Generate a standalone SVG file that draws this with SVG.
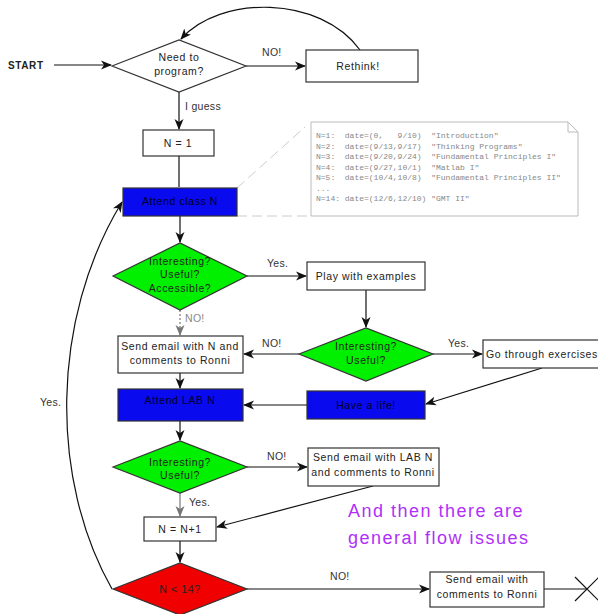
<svg xmlns="http://www.w3.org/2000/svg" width="598" height="614" viewBox="0 0 598 614">
<defs>
<style>
.box{stroke:#333;stroke-width:1.2}
.w{fill:#fff}
.blue{fill:#0a0aef}
.green{fill:#00f000}
.red{fill:#f00000}
.t{font-family:"Liberation Sans",Arial,sans-serif;font-size:10.5px;fill:#222;text-anchor:middle;letter-spacing:0.6px}
.lbl{font-family:"Liberation Sans",Arial,sans-serif;font-size:10.5px;fill:#333;letter-spacing:0.3px}
.c{fill:none;stroke:#111;stroke-width:1.2}
.g{fill:none;stroke:#777;stroke-width:1.2}
.mono{font-family:"Liberation Mono","Courier New",monospace;font-size:8px;fill:#888;white-space:pre}
.big{font-family:"Liberation Sans",Arial,sans-serif;font-size:18px;fill:#b030f8;letter-spacing:1.5px}
</style>
<marker id="a" markerWidth="11" markerHeight="10" refX="10" refY="5" orient="auto" markerUnits="userSpaceOnUse"><path d="M0,0.5 L11,5 L0,9.5 L3,5 z" fill="#111"/></marker>
<marker id="ag" markerWidth="11" markerHeight="10" refX="10" refY="5" orient="auto" markerUnits="userSpaceOnUse"><path d="M0,0.5 L11,5 L0,9.5 L3,5 z" fill="#777"/></marker>
</defs>
<rect width="598" height="614" fill="#fff"/>

<g id="connectors">
<line class="c" x1="54" y1="65" x2="111" y2="65" marker-end="url(#a)"/>
<line class="c" x1="246" y1="66" x2="305" y2="66" marker-end="url(#a)"/>
<path class="c" d="M360,50 C320,-5 220,-5 181,39" marker-end="url(#a)"/>
<line class="c" x1="179" y1="92" x2="179" y2="129" marker-end="url(#a)"/>
<line class="c" x1="179" y1="156" x2="179" y2="187"/>
<line class="c" x1="180" y1="216" x2="180" y2="242" marker-end="url(#a)"/>
<line class="c" x1="247" y1="276" x2="306" y2="276" marker-end="url(#a)"/>
<line class="c" x1="366" y1="290" x2="366" y2="327" marker-end="url(#a)"/>
<line class="g" x1="180" y1="310" x2="180" y2="335" stroke-dasharray="2,2" marker-end="url(#ag)"/>
<line class="c" x1="299" y1="354" x2="244" y2="354" marker-end="url(#a)"/>
<line class="c" x1="433" y1="354" x2="482" y2="354" marker-end="url(#a)"/>
<line class="c" x1="542" y1="368" x2="426" y2="404" marker-end="url(#a)"/>
<line class="c" x1="307" y1="405" x2="244" y2="405" marker-end="url(#a)"/>
<line class="c" x1="180" y1="373" x2="180" y2="388" marker-end="url(#a)"/>
<line class="c" x1="180" y1="421" x2="180" y2="440" marker-end="url(#a)"/>
<line class="c" x1="247" y1="467" x2="307" y2="467" marker-end="url(#a)"/>
<line class="c" x1="373" y1="486" x2="217" y2="527" marker-end="url(#a)"/>
<line class="g" x1="180" y1="493" x2="180" y2="516" marker-end="url(#ag)"/>
<line class="c" x1="180" y1="541" x2="180" y2="562" marker-end="url(#a)"/>
<line class="c" x1="247" y1="589" x2="429" y2="589" marker-end="url(#a)"/>
<line class="c" x1="544" y1="589" x2="587" y2="589"/>
<path class="c" d="M575,577 L599,601 M575,601 L599,577"/>
<path class="c" d="M112,589 C50,480 50,320 122,202" marker-end="url(#a)"/>
<line x1="237" y1="188" x2="305" y2="127" stroke="#ccc" stroke-width="1" stroke-dasharray="10,5"/>
<line x1="237" y1="216" x2="311" y2="216" stroke="#ccc" stroke-width="1" stroke-dasharray="10,5"/>
</g>

<g id="labels">
<text x="8" y="69" font-family="Liberation Sans,Arial,sans-serif" font-size="10px" font-weight="bold" fill="#222" letter-spacing="0.6">START</text>
<text class="lbl" x="262" y="56">NO!</text>
<text class="lbl" x="185" y="110">I guess</text>
<text class="lbl" x="267" y="267">Yes.</text>
<text class="lbl" x="185" y="322" style="fill:#888">NO!</text>
<text class="lbl" x="262" y="347">NO!</text>
<text class="lbl" x="448" y="347">Yes.</text>
<text class="lbl" x="267" y="460">NO!</text>
<text class="lbl" x="189" y="506">Yes.</text>
<text class="lbl" x="330" y="580">NO!</text>
<text class="lbl" x="40" y="406">Yes.</text>
<text class="big" x="348" y="517">And then there are</text>
<text class="big" x="348" y="544">general flow issues</text>
</g>

<g id="need">
<polygon class="box w" points="112,66 179,40 246,66 179,92"/>
<text class="t" x="179" y="61">Need to</text>
<text class="t" x="179" y="75">program?</text>
</g>
<g id="rethink">
<rect class="box w" x="306" y="50" width="112" height="32"/>
<text class="t" x="358" y="70">Rethink!</text>
</g>
<g id="n1">
<rect class="box w" x="143" y="130" width="71" height="26"/>
<text class="t" x="178" y="147">N = 1</text>
</g>
<g id="note">
<path d="M311,122 L568,122 L578,132 L578,216 L311,216 z" fill="#fff" stroke="#bbb" stroke-width="1"/>
<path d="M568,122 L568,132 L578,132" fill="none" stroke="#bbb" stroke-width="1"/>
<text class="mono" x="316" y="138">N=1:  date=(0,   9/10)  "Introduction"</text>
<text class="mono" x="316" y="148.5">N=2:  date=(9/13,9/17)  "Thinking Programs"</text>
<text class="mono" x="316" y="159">N=3:  date=(9/20,9/24)  "Fundamental Principles I"</text>
<text class="mono" x="316" y="169.5">N=4:  date=(9/27,10/1)  "Matlab I"</text>
<text class="mono" x="316" y="180">N=5:  date=(10/4,10/8)  "Fundamental Principles II"</text>
<text class="mono" x="316" y="190.5">...</text>
<text class="mono" x="316" y="201">N=14: date=(12/6,12/10) "GMT II"</text>
</g>
<g id="attendclass">
<rect class="box blue" x="123" y="188" width="114" height="28"/>
<text class="t" x="180" y="205" style="fill:#000028">Attend class N</text>
</g>
<g id="d1">
<polygon class="box green" points="113,276 180,243 247,276 180,310"/>
<text class="t" x="180" y="265">Interesting?</text>
<text class="t" x="180" y="278">Useful?</text>
<text class="t" x="180" y="292">Accessible?</text>
</g>
<g id="play">
<rect class="box w" x="307" y="262" width="118" height="28"/>
<text class="t" x="366" y="280">Play with examples</text>
</g>
<g id="d2">
<polygon class="box green" points="299,354 366,328 433,354 366,381"/>
<text class="t" x="366" y="350">Interesting?</text>
<text class="t" x="366" y="364">Useful?</text>
</g>
<g id="email1">
<rect class="box w" x="118" y="336" width="125" height="37"/>
<text class="t" x="180" y="350">Send email with N and</text>
<text class="t" x="180" y="364">comments to Ronni</text>
</g>
<g id="exercises">
<rect class="box w" x="483" y="340" width="118" height="28"/>
<text class="t" x="542" y="358">Go through exercises</text>
</g>
<g id="life">
<rect class="box blue" x="307" y="391" width="118" height="28"/>
<text class="t" x="366" y="409" style="fill:#000028">Have a life!</text>
</g>
<g id="lab">
<rect class="box blue" x="118" y="389" width="125" height="32"/>
<text class="t" x="180" y="404" style="fill:#000028">Attend LAB N</text>
</g>
<g id="d3">
<polygon class="box green" points="113,467 180,441 247,467 180,493"/>
<text class="t" x="180" y="466">Interesting?</text>
<text class="t" x="180" y="479">Useful?</text>
</g>
<g id="email2">
<rect class="box w" x="308" y="448" width="131" height="38"/>
<text class="t" x="373" y="461">Send email with LAB N</text>
<text class="t" x="373" y="476">and comments to Ronni</text>
</g>
<g id="ninc">
<rect class="box w" x="144" y="517" width="72" height="24"/>
<text class="t" x="180" y="533">N = N+1</text>
</g>
<g id="d4">
<polygon class="box red" points="113,589 180,563 247,589 180,615"/>
<text class="t" x="180" y="593">N &lt; 14?</text>
</g>
<g id="email3">
<rect class="box w" x="430" y="572" width="114" height="35"/>
<text class="t" x="487" y="583">Send email with</text>
<text class="t" x="487" y="598">comments to Ronni</text>
</g>
</svg>
